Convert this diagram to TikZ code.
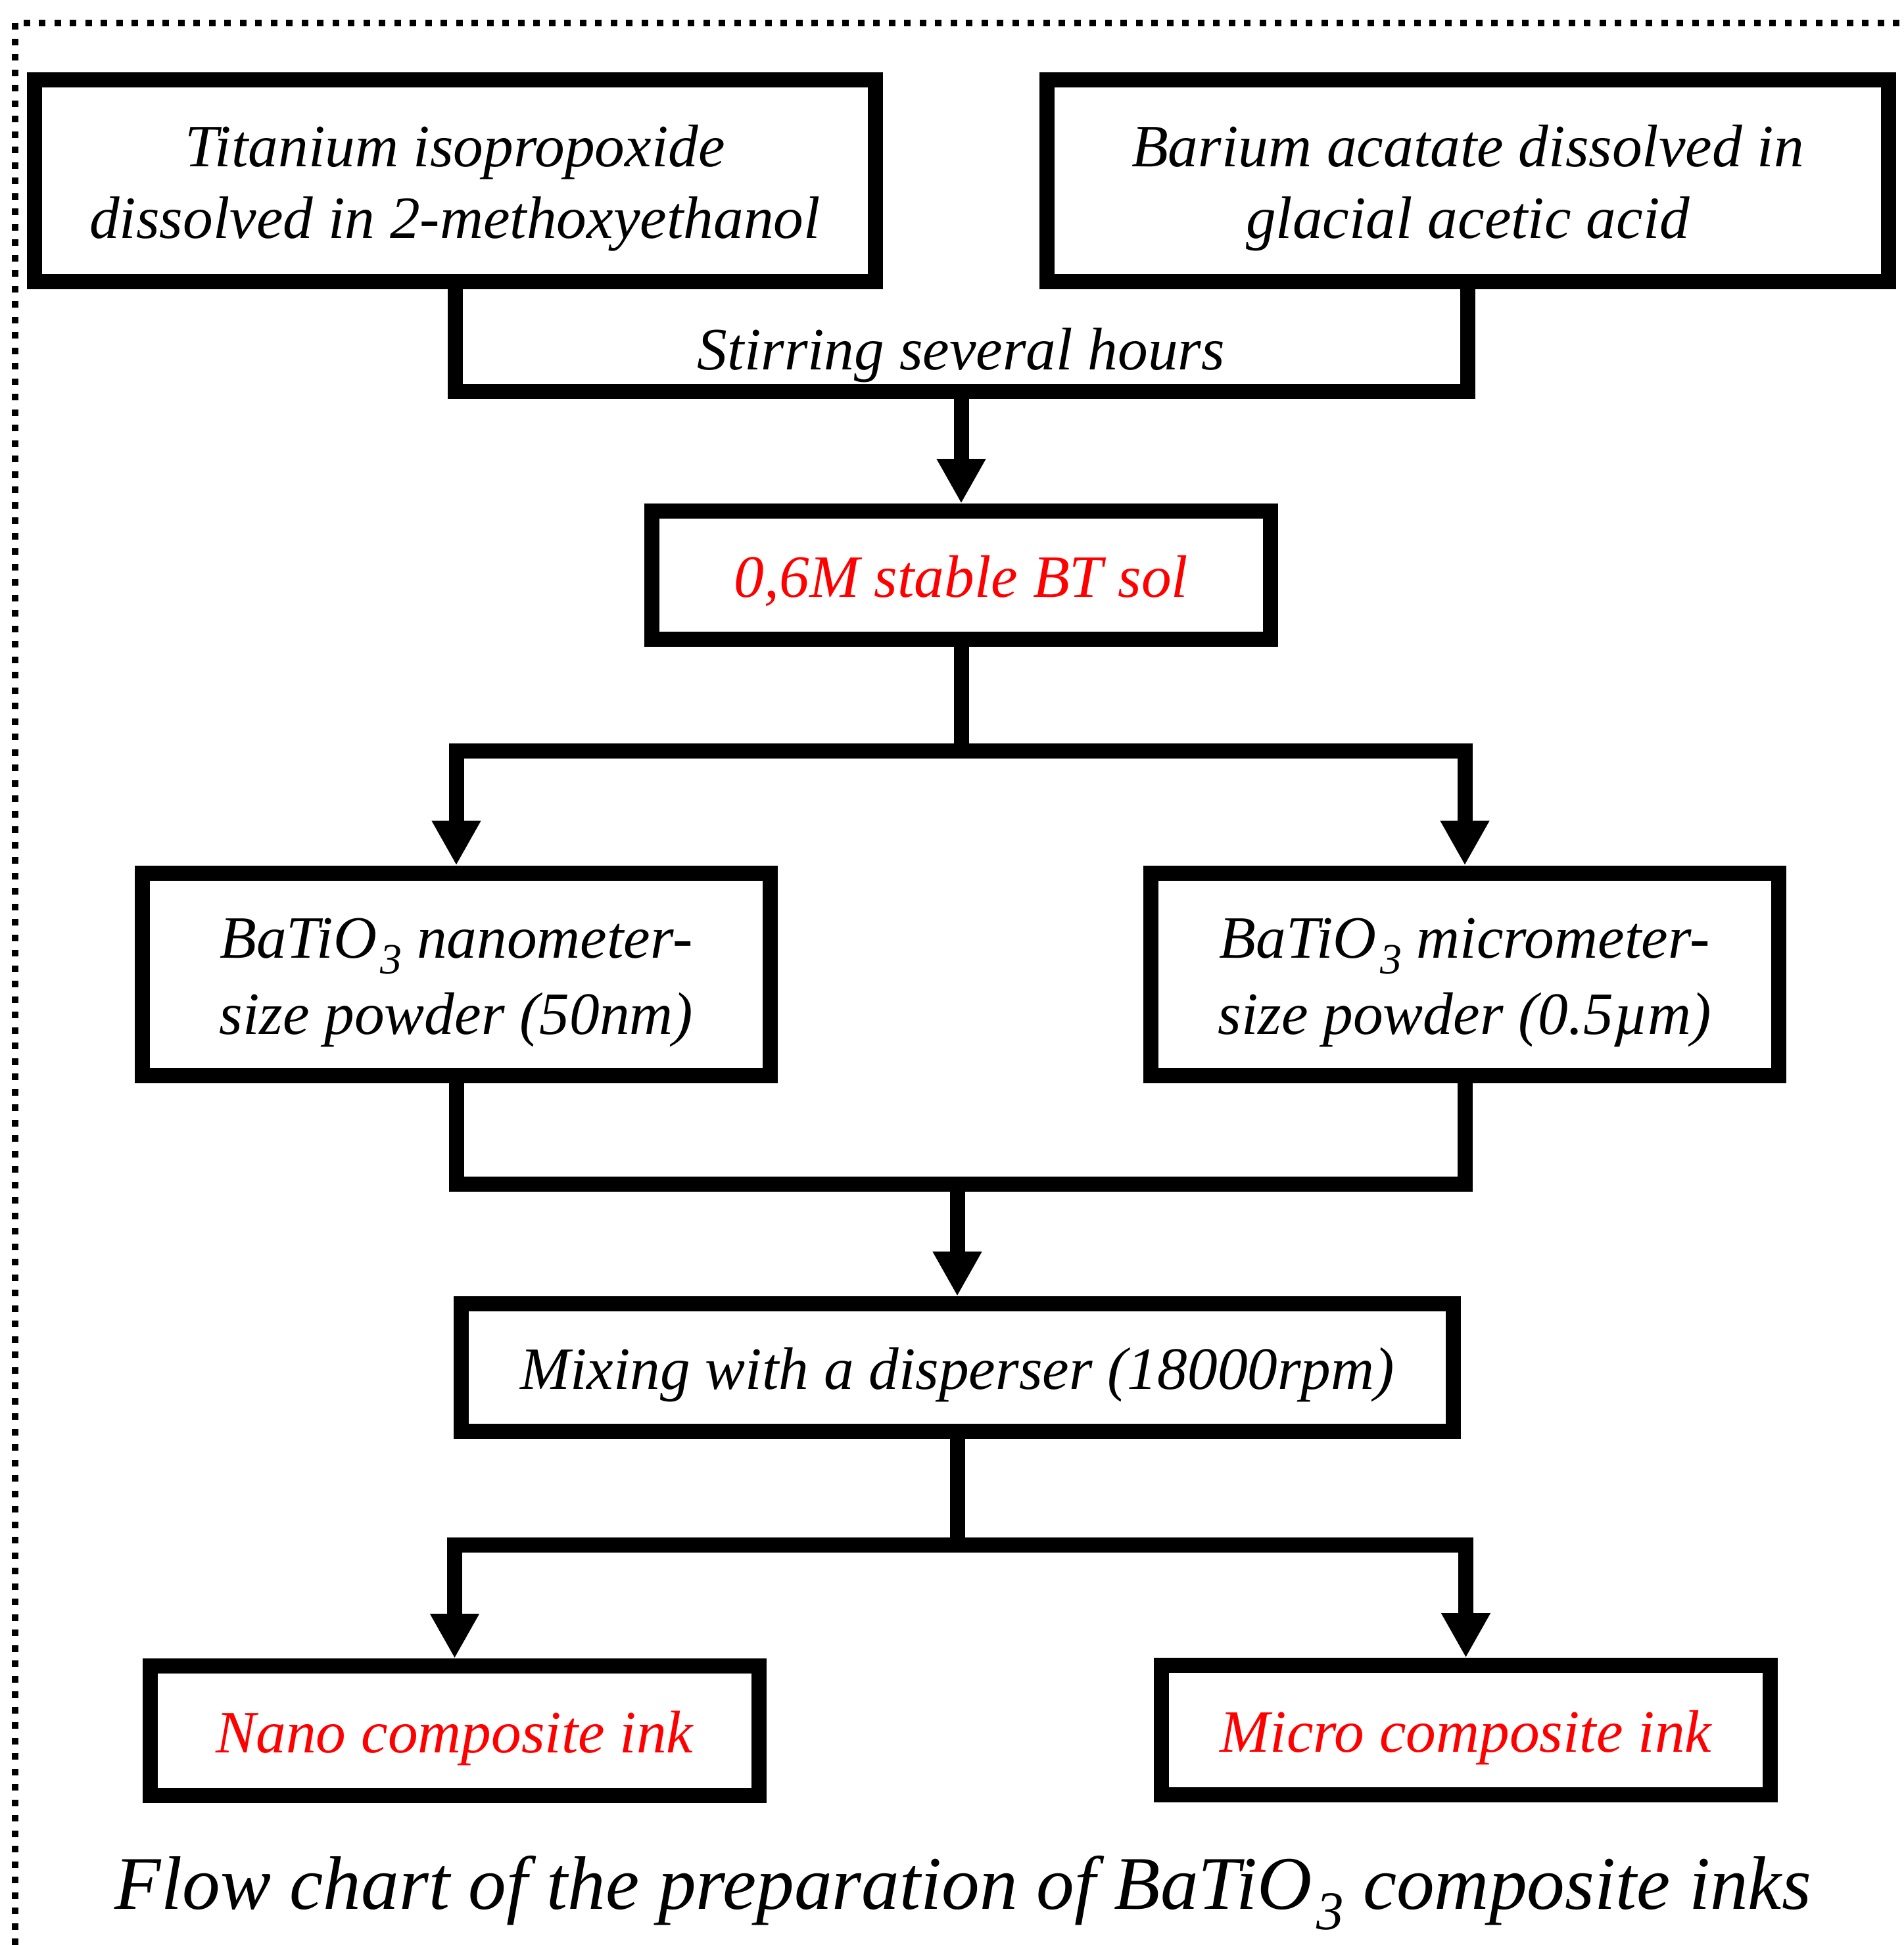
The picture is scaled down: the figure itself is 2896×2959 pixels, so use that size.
\documentclass[tikz,border=0pt]{standalone}
\usepackage{fontspec}
\setmainfont{Liberation Serif}
\usetikzlibrary{arrows.meta,positioning,calc}
\newcommand{\st}{\rule[-6pt]{0pt}{31pt}}
\newcommand{\tsub}[1]{\kern0.06em\raisebox{-0.27em}{\scalebox{0.72}{#1}}}
\tikzset{
  mybox/.style = {rectangle, draw, line width=2.3mm, align=center, inner sep=0pt, font=\itshape\fontsize{26}{31}\selectfont},
  mytall/.style = {mybox, minimum height=30.7mm},
  myflat/.style = {mybox, minimum height=19.5mm},
  myink/.style = {myflat, text=red},
  myline/.style = {line width=2.3mm},
  myarrow/.style = {-{Triangle[width=7mm, length=6.8mm]}, line width=2.3mm},
  myframe/.style = {line width=1mm, dash pattern=on 1mm off 1.35mm},
}
\begin{document}
\begin{tikzpicture}[x=0.1mm, y=-0.1mm]
\useasboundingbox (0,0) rectangle (2896,2959);
\draw[myframe] (22.5,2959) -- (22.5,35) -- (2896,35);

% starting solutions
\node[mytall, minimum width=127.9mm] (ti) at (692,275) {\st Titanium isopropoxide\\\st dissolved in 2-methoxyethanol};
\node[mytall, minimum width=128mm] (ba) at (2232.5,275) {\st Barium acatate dissolved in\\\st glacial acetic acid};
\node[myink, minimum width=94.1mm] (sol) at (1462,875) {\st 0,6M stable BT sol};

% powders
\node[mytall, minimum width=95.5mm, minimum height=30.8mm] (nano) at (694,1482) {\st BaTiO\tsub{3} nanometer-\\\st size powder (50nm)};
\node[mytall, minimum width=95.5mm, minimum height=30.8mm] (micro) at (2228,1482) {\st BaTiO\tsub{3} micrometer-\\\st size powder (0.5µm)};
\node[myflat, minimum width=150.9mm, minimum height=19.4mm] (mix) at (1456,2080.5) {\st Mixing with a disperser (18000rpm)};

% inks
\node[myink, minimum width=92.6mm, minimum height=19.7mm] (nink) at (691.5,2633) {\st Nano composite ink};
\node[myink, minimum width=92.6mm, minimum height=19.7mm] (mink) at (2229.5,2632) {\st Micro composite ink};

\coordinate (stir) at (1462,595.5);
\coordinate (split1) at (1462,1142);
\coordinate (merge) at (1456,1801);
\coordinate (split2) at (1456,2350);

\node[font=\itshape\fontsize{26}{31}\selectfont, anchor=base, inner sep=0pt] (stirtxt) at (1462,562) {Stirring several hours};

\draw[myline] (ti.south) |- (stir) -| (ba.south);
\draw[myarrow] (stir) -- (sol.north);
\draw[myline] (sol.south) -- (split1);
\draw[myarrow] (split1) -| (nano.north);
\draw[myarrow] (split1) -| (micro.north);
\draw[myline] (nano.south) |- (merge) -| (micro.south);
\draw[myarrow] (merge) -- (mix.north);
\draw[myline] (mix.south) -- (split2);
\draw[myarrow] (split2) -| (nink.north);
\draw[myarrow] (split2) -| (mink.north);

\node[font=\itshape\fontsize{32.8}{40}\selectfont, anchor=base, inner sep=0pt] (title) at (1465,2904) {Flow chart of the preparation of BaTiO\tsub{3} composite inks};
\end{tikzpicture}
\end{document}
